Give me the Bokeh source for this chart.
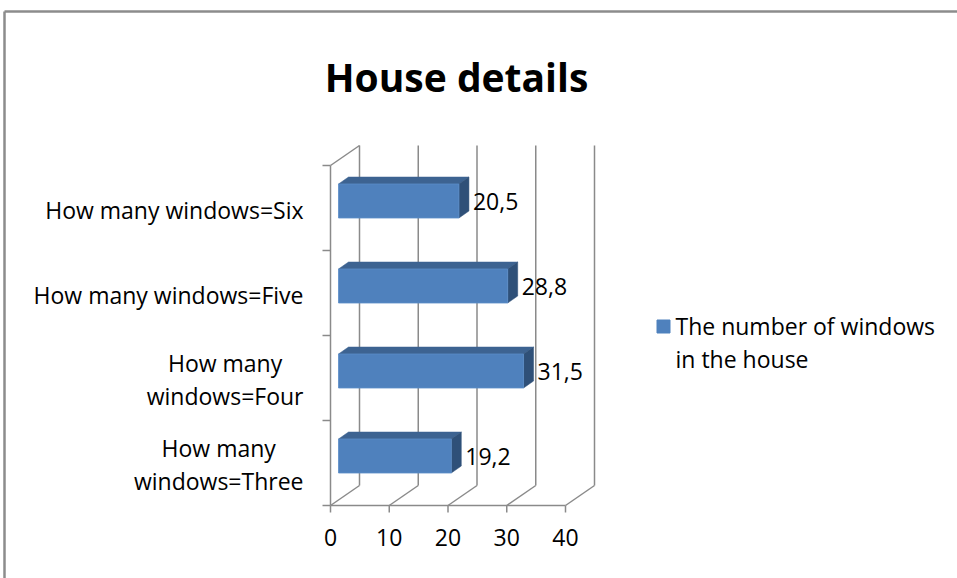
from bokeh.plotting import figure
from bokeh.models import Range1d
from bokeh.embed import file_html
from bokeh.resources import INLINE
from bokeh.core.properties import value

# ---------------- data ----------------
categories = ["How many\nwindows=Three", "How many\nwindows=Four",
              "How many windows=Five", "How many windows=Six"]
values = [19.2, 31.5, 28.8, 20.5]
x_ticks = [0, 10, 20, 30, 40]
title_text = "House details"
series_name = "The number of windows\nin the house"

# ---------------- layout / style ----------------
W, H = 957, 578
X0_PX, PX_PER_VAL = 330, 5.875      # canvas px of value 0, px per value unit
Y0_PX, PX_PER_CAT = 505, 85         # canvas px of category floor, px per category band
DEPTH_DX_PX, DEPTH_DY_PX = 29, 20   # 3D depth of the box
BAR_OFF_DX_PX, BAR_OFF_DY_PX = 8, 7
BAR_DEPTH_DX_PX, BAR_DEPTH_DY_PX = 10, 7
BAR_THICK = 0.4
TICK_PX = 8
FONT = value("Open Sans")
GRID = "#8a8a8a"
FRONT, TOPC, SIDE = "#4F81BD", "#3D6391", "#2F5078"


def ux(px):
    return px / PX_PER_VAL


def uy(px):
    return px / PX_PER_CAT


def cx(px):
    return (px - X0_PX) / PX_PER_VAL


def cy(py):
    return (Y0_PX - py) / PX_PER_CAT


p = figure(width=W, height=H, x_range=Range1d(cx(0), cx(W)), y_range=Range1d(cy(H), cy(0)),
           output_backend="svg", toolbar_location=None, x_axis_location=None,
           y_axis_location=None, min_border=0, outline_line_color=None)
p.grid.visible = False
p.background_fill_color = "white"
p.border_fill_color = "white"

n = len(categories)
DX, DY = ux(DEPTH_DX_PX), uy(DEPTH_DY_PX)
tmax = x_ticks[-1]

# outer chart border (left & top)
p.segment(x0=[cx(4), cx(4)], y0=[cy(11), cy(11)], x1=[cx(W), cx(4)], y1=[cy(11), cy(H)],
          line_color="#8c8c8c", line_width=2.5)

# back wall gridlines
p.segment(x0=[t + DX for t in x_ticks], y0=[DY] * len(x_ticks),
          x1=[t + DX for t in x_ticks], y1=[n + DY] * len(x_ticks),
          line_color=GRID, line_width=1.5)
# floor diagonals
p.segment(x0=x_ticks, y0=[0] * len(x_ticks), x1=[t + DX for t in x_ticks],
          y1=[DY] * len(x_ticks), line_color=GRID, line_width=1.5)
# left wall top edge
p.segment(x0=[0], y0=[n], x1=[DX], y1=[n + DY], line_color=GRID, line_width=1.5)
# front axes
p.segment(x0=[0, 0], y0=[0, 0], x1=[0, tmax], y1=[n, 0], line_color=GRID, line_width=1.5)
p.segment(x0=[-ux(TICK_PX)] * (n + 1), y0=list(range(n + 1)), x1=[0] * (n + 1),
          y1=list(range(n + 1)), line_color=GRID, line_width=1.5)
p.segment(x0=x_ticks, y0=[0] * len(x_ticks), x1=x_ticks, y1=[-uy(7)] * len(x_ticks),
          line_color=GRID, line_width=1.5)

# bars
ox, oy = ux(BAR_OFF_DX_PX), uy(BAR_OFF_DY_PX)
ddx, ddy = ux(BAR_DEPTH_DX_PX), uy(BAR_DEPTH_DY_PX)
L = [ox] * n
R = [v + ox for v in values]
B = [i + 0.5 - BAR_THICK / 2 + oy for i in range(n)]
T = [i + 0.5 + BAR_THICK / 2 + oy for i in range(n)]

p.patches(xs=[[l, l + ddx, r + ddx, r] for l, r in zip(L, R)],
          ys=[[t, t + ddy, t + ddy, t] for t in T],
          fill_color=TOPC, line_color=TOPC, line_width=0.5)
p.patches(xs=[[r, r + ddx, r + ddx, r] for r in R],
          ys=[[b, b + ddy, t + ddy, t] for b, t in zip(B, T)],
          fill_color=SIDE, line_color=SIDE, line_width=0.5)
p.quad(left=L, right=R, bottom=B, top=T, fill_color=FRONT, line_color="#5b8dc8", line_width=0.8)

# data labels
p.text(x=[r + ddx + ux(4) for r in R], y=[(b + t) / 2 - uy(0.5) for b, t in zip(B, T)],
       text=[f"{v:.1f}".replace(".", ",") for v in values],
       text_font=FONT, text_font_size="23px", text_color="black",
       text_align="left", text_baseline="alphabetic")

# category labels
p.text(x=[cx(303)] * n, y=[i + 0.5 - uy(1.5) for i in range(n)], text=categories,
       text_font=FONT, text_font_size="23px", text_color="black",
       text_align="center", anchor="center_right", text_line_height=1.02)

# value-axis tick labels
p.text(x=x_ticks, y=[cy(537)] * len(x_ticks), text=[str(t) for t in x_ticks],
       text_font=FONT, text_font_size="23px", text_color="black",
       text_align="center", text_baseline="alphabetic")

# title
p.text(x=[cx(456)], y=[cy(76)], text=[title_text], text_font=FONT, text_font_size="39px",
       text_font_style="bold", text_color="black", text_align="center",
       text_baseline="alphabetic")

# legend
p.scatter(x=[cx(663)], y=[cy(326)], marker="square", size=13, fill_color=FRONT,
          line_color=FRONT)
p.text(x=[cx(675)], y=[cy(342)], text=[series_name], text_font=FONT, text_font_size="23px",
       text_color="black", text_align="left", anchor="center_left", text_line_height=1.02)

open("out.html", "w").write(file_html(p, INLINE))
